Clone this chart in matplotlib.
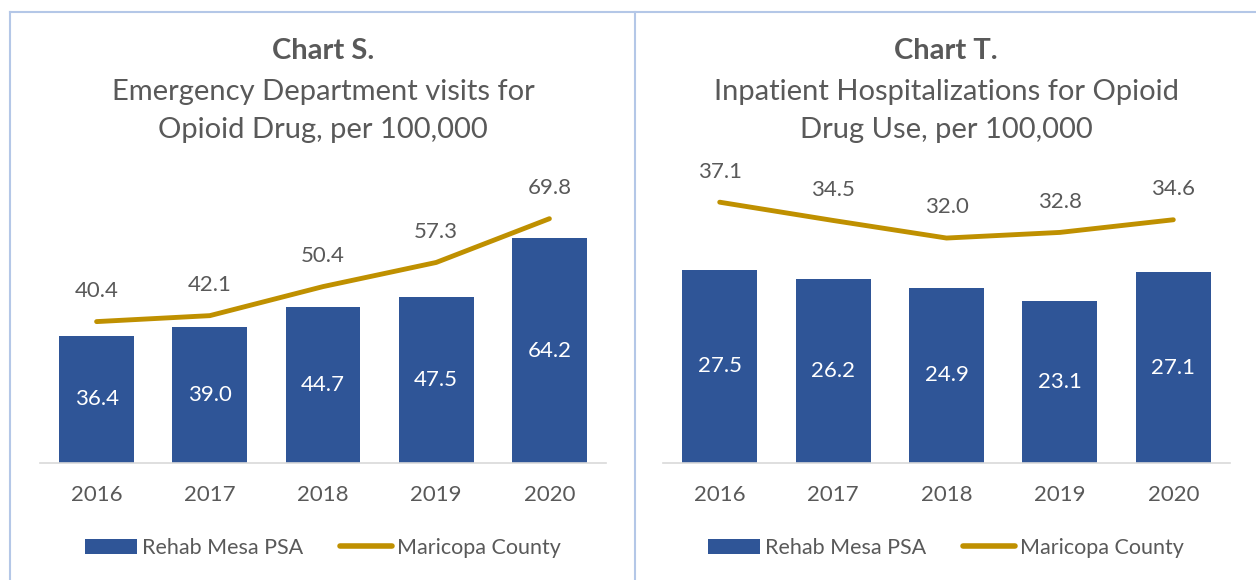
import matplotlib
matplotlib.use("Agg")
import matplotlib.pyplot as plt
from matplotlib.lines import Line2D
from matplotlib.patches import Patch

plt.rcParams['font.family'] = ['Lato', 'DejaVu Sans']

years = ["2016", "2017", "2018", "2019", "2020"]

# Chart S - ED visits
ed_psa = [36.4, 39.0, 44.7, 47.5, 64.2]
ed_county = [40.4, 42.1, 50.4, 57.3, 69.8]

# Chart T - inpatient hospitalizations
ip_psa = [27.5, 26.2, 24.9, 23.1, 27.1]
ip_county = [37.1, 34.5, 32.0, 32.8, 34.6]

W, H = 1256, 580
BAR = "#2F5597"
GOLD = "#BF9000"
TXT = "#595959"
BORDER = "#B4C7E7"

fig = plt.figure(figsize=(W / 100, H / 100), dpi=100)


def px(l, t, r, b):
    return [l / W, 1 - b / H, (r - l) / W, (b - t) / H]


def draw(ax, psa, county, ymax, bold, sub, cx):
    x = range(len(years))
    ax.bar(x, psa, width=0.66, color=BAR, zorder=2)
    ax.plot(x, county, color=GOLD, lw=3.5, solid_capstyle='round', zorder=3)
    for i, v in enumerate(psa):
        ax.text(i, v / 2, f"{v:.1f}", color="white", ha="center", va="center", fontsize=16)
    for i, v in enumerate(county):
        ax.annotate(f"{v:.1f}", (i, v), xytext=(0, 22), textcoords="offset points",
                    ha="center", va="center", color=TXT, fontsize=16)
    ax.set_xlim(-0.5, len(years) - 0.5)
    ax.set_ylim(0, ymax)
    ax.set_xticks(list(x))
    ax.set_xticklabels(years, color=TXT, fontsize=16)
    ax.tick_params(axis='x', length=0, pad=16)
    ax.set_yticks([])
    for s in ["top", "right", "left"]:
        ax.spines[s].set_visible(False)
    ax.spines["bottom"].set_color("#D9D9D9")
    ax.spines["bottom"].set_linewidth(1.2)

    fig.text(cx / W, 1 - 51 / H, bold, ha="center", va="center", fontsize=21,
             fontweight="bold", color=TXT)
    for k, line in enumerate(sub):
        fig.text(cx / W, 1 - (92 + 38 * k) / H, line, ha="center", va="center",
                 fontsize=21, color=TXT)

    handles = [Patch(facecolor=BAR, label="Rehab Mesa PSA"),
               Line2D([0], [0], color=GOLD, lw=4, solid_capstyle='round', label="Maricopa County")]
    fig.legend(handles=handles, loc="center", bbox_to_anchor=(cx / W, 1 - 548 / H),
               ncol=2, frameon=False, fontsize=15.5, labelcolor=TXT, handlelength=2.4,
               handleheight=0.7, handletextpad=0.25, columnspacing=1.7)


ax1 = fig.add_axes(px(40, 150, 606, 463))
draw(ax1, ed_psa, ed_county, (463 - 150) / 3.5, "Chart S.",
     ["Emergency Department visits for", "Opioid Drug, per 100,000"], 323)

ax2 = fig.add_axes(px(663, 150, 1230, 463))
draw(ax2, ip_psa, ip_county, (463 - 150) / 7.03, "Chart T.",
     ["Inpatient Hospitalizations for Opioid", "Drug Use, per 100,000"], 946)

# panel borders
for xs, ys in [([10 / W, 1], [1 - 12 / H, 1 - 12 / H]),
               ([10 / W, 10 / W], [0, 1 - 12 / H]),
               ([635 / W, 635 / W], [0, 1 - 12 / H])]:
    fig.add_artist(Line2D(xs, ys, color=BORDER, lw=1.5))

fig.savefig("out.png", dpi=100)
